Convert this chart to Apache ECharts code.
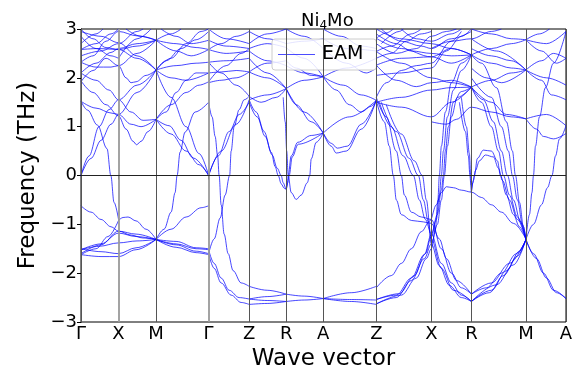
<!DOCTYPE html>
<html>
<head>
<meta charset="utf-8">
<script src="https://cdn.jsdelivr.net/npm/echarts@6/dist/echarts.min.js"></script>
<style>
  html, body { margin: 0; padding: 0; background: #fff; }
  #chart { width: 580px; height: 367px; }
</style>
</head>
<body>
<div id="chart"></div>
<script>
// High-symmetry points along the path (cumulative path distance) and their labels
const kPointDist = [0, 37.5, 75, 127.5, 168, 205, 242, 295, 350, 390, 444.5, 484.5];
const kPointLabels = ['Γ', 'X', 'M', 'Γ', 'Z', 'R', 'A', 'Z', 'X', 'R', 'M', 'A'];
const freqTicks = [-3, -2, -1, 0, 1, 2, 3];

// Phonon branches, each a list of [path distance, frequency in THz]; imaginary modes are negative
const bandsGammaXM = [
  [[0,-0.62],[10,-0.75],[20,-0.9],[30,-1.05],[37.5,-1.14],[50,-1.22],[62,-1.28],[75,-1.31]],
  [[37.5,-0.92],[42,-0.86],[47,-0.85],[55,-0.93],[65,-1.1],[75,-1.31]],
  [[0,-1.62],[15,-1.5],[27,-1.25],[37.5,-0.92]],
  [[0,-1.52],[18,-1.45],[37.5,-1.38],[56,-1.34],[75,-1.31]],
  [[0,-1.6],[20,-1.42],[37.5,-1.14],[55,-1.2],[75,-1.31]],
  [[0,-1.52],[20,-1.4],[37.5,-1.18],[55,-1.25],[75,-1.31]],
  [[0,-1.62],[20,-1.66],[37.5,-1.66],[55,-1.52],[75,-1.31]],
  [[0,-1.5],[20,-1.56],[37.5,-1.6],[55,-1.48],[75,-1.31]],
  [[0,1.52],[6.5,1.34],[16.5,1.03],[26,0.55],[29.8,0],[33,-0.55],[37.5,-0.9]],
  [[0,0],[10,0.35],[20,0.72],[30,1.05],[37.5,1.25],[56,1.7],[75,2.16]],
  [[0,0],[8,0.4],[18,1.0],[28,1.35],[37.5,1.55],[56,1.85],[75,2.16]],
  [[0,1.94],[12,1.7],[25,1.45],[37.5,1.22],[45,0.95],[52,0.7],[55.5,0.63],[60,0.7],[67,0.9],[75,1.15]],
  [[0,1.52],[15,1.38],[30,1.28],[37.5,1.25],[50,1.05],[60,1.0],[75,1.15]],
  [[0,2.1],[15,1.95],[28,1.75],[37.5,1.55],[50,1.3],[62,1.13],[75,1.15]],
  [[0,2.32],[15,2.22],[30,2.22],[37.5,2.25],[45,2.0],[50,1.9],[55,1.92],[65,2.05],[75,2.16]],
  [[0,2.58],[18,2.6],[37.5,2.58],[56,2.4],[75,2.16]],
  [[0,2.58],[15,2.7],[30,2.9],[37.5,3.0]],
  [[0,2.32],[12,2.45],[25,2.75],[37.5,2.95],[56,2.86],[75,2.77]],
  [[0,3.0],[12,2.8],[25,2.62],[37.5,2.58],[56,2.65],[75,2.77]],
  [[0,2.95],[20,2.85],[37.5,2.72],[56,2.45],[75,2.16]],
  [[0,2.1],[15,2.3],[30,2.52],[37.5,2.6],[56,2.7],[75,2.77]],
  [[0,1.92],[12,2.15],[25,2.4],[37.5,2.25],[56,2.5],[75,2.77]],
  [[37.5,2.4],[56,2.8],[70,3.0]],
  [[45,3.0],[60,2.85],[75,2.77]],
  [[0,2.7],[15,2.9],[22,3.0]],
  [[0,2.85],[15,2.6],[30,2.45],[37.5,2.4]],
  [[0,2.45],[20,2.55],[37.5,2.7],[56,2.95],[62,3.0]]
];

const bandsMGamma = [
  [[75,-1.31],[90,-1.1],[105,-0.85],[120,-0.66],[127.5,-0.62]],
  [[75,-1.31],[95,-1.4],[115,-1.5],[127.5,-1.52]],
  [[75,-1.31],[95,-1.42],[115,-1.55],[127.5,-1.6]],
  [[75,-1.31],[95,-1.47],[115,-1.58],[127.5,-1.62]],
  [[75,-1.31],[95,-1.35],[115,-1.48],[127.5,-1.5]],
  [[75,-1.31],[83,-1.1],[90,-0.75],[94,-0.35],[96,0],[99,0.48],[104,0.89],[114,1.3],[127.5,1.5]],
  [[75,1.15],[90,0.85],[105,0.5],[118,0.22],[127.5,0]],
  [[75,1.15],[88,1.02],[100,0.72],[112,0.36],[127.5,0]],
  [[75,2.16],[90,1.6],[105,1.0],[118,0.45],[127.5,0]],
  [[75,1.15],[90,1.45],[105,1.7],[118,1.85],[127.5,1.92]],
  [[75,2.16],[90,2.0],[105,1.95],[127.5,2.1]],
  [[75,2.16],[95,2.25],[115,2.3],[127.5,2.32]],
  [[75,2.77],[95,2.55],[110,2.45],[127.5,2.58]],
  [[75,2.77],[95,2.7],[115,2.62],[127.5,2.58]],
  [[75,2.16],[90,2.4],[105,2.7],[120,2.95],[127.5,3.0]],
  [[75,2.77],[90,2.9],[100,3.0]],
  [[80,3.0],[95,2.85],[110,2.7],[127.5,2.77]],
  [[75,2.16],[85,2.35],[100,2.6],[115,2.78],[127.5,2.95]],
  [[75,1.15],[85,1.3],[95,1.7],[105,1.95],[115,2.1],[127.5,2.1]]
];

const bandsGammaZ = [
  [[127.5,-1.52],[133,-1.8],[140,-2.1],[148,-2.35],[158,-2.5],[168,-2.53]],
  [[127.5,-1.6],[133,-1.9],[140,-2.2],[150,-2.45],[160,-2.6],[168,-2.64]],
  [[127.5,1.5],[131,1.2],[134,0.8],[136.5,0.4],[138,0],[140,-0.6],[143,-1.2],[147,-1.6],[152,-1.95],[160,-2.2],[168,-2.27]],
  [[127.5,-1.6],[133,-1.3],[139,-0.87],[144,-0.4],[148.5,0],[150,0.5],[153,1.0],[158,1.35],[163,1.55],[168,1.62]],
  [[127.5,0],[137,0.4],[148,0.9],[158,1.25],[168,1.5]],
  [[127.5,0],[140,0.5],[155,1.05],[168,1.55]],
  [[127.5,1.9],[140,1.95],[155,2.0],[168,2.12]],
  [[127.5,2.1],[140,2.12],[155,2.15],[168,2.12]],
  [[127.5,2.32],[145,2.35],[168,2.4]],
  [[127.5,2.58],[145,2.5],[168,2.55]],
  [[127.5,2.58],[140,2.7],[155,2.85],[168,2.95]],
  [[127.5,3.0],[145,2.8],[168,2.7]],
  [[127.5,2.77],[145,2.65],[168,2.6]],
  [[127.5,1.92],[145,2.25],[160,2.5],[168,2.6]],
  [[127.5,2.32],[140,2.1],[155,1.85],[168,1.62]]
];

const bandsZR = [
  [[168,-2.27],[186,-2.35],[205,-2.43]],
  [[168,-2.53],[186,-2.48],[205,-2.43]],
  [[168,-2.64],[186,-2.62],[205,-2.58]],
  [[168,-2.53],[186,-2.56],[205,-2.58]],
  [[168,1.55],[175,1.3],[183,0.9],[190,0.48],[194,0.18],[197,0],[200,-0.17],[203,-0.26],[205,-0.28],[206,-0.2],[207,0],[210,0.4],[216.5,0.68],[230,0.82],[242,0.87]],
  [[168,1.5],[176,1.2],[184,0.8],[191,0.42],[196,0.15],[200,0],[202,-0.15],[205,-0.28],[206.5,-0.15],[208,0],[211,0.38],[217,0.64],[242,0.87]],
  [[202,1.6],[204,1.1],[205.5,0.5],[207,0],[210,-0.35],[215,-0.49],[220,-0.4],[226,-0.15],[228.5,0],[230,0.34],[235,0.68],[242,0.87]],
  [[168,1.55],[186,1.65],[205,1.78]],
  [[168,1.62],[180,1.5],[195,1.6],[205,1.78]],
  [[168,2.12],[186,2.0],[205,1.78]],
  [[168,2.4],[186,2.1],[205,1.78]],
  [[168,2.12],[186,2.3],[205,2.35]],
  [[168,2.55],[186,2.35],[205,2.25]],
  [[168,2.6],[186,2.7],[205,2.62]],
  [[168,2.95],[186,2.8],[205,2.7]],
  [[168,2.7],[186,2.9],[205,3.0]]
];

const bandsRA = [
  [[205,-2.43],[223,-2.47],[242,-2.52]],
  [[205,-2.58],[223,-2.55],[242,-2.52]],
  [[205,1.78],[223,1.3],[242,0.87]],
  [[205,1.78],[215,1.45],[230,1.1],[242,0.87]],
  [[205,1.78],[223,1.95],[242,2.02]],
  [[205,2.25],[223,2.1],[242,2.02]],
  [[205,2.35],[215,2.2],[230,2.05],[242,2.02]],
  [[205,2.62],[223,2.4],[242,2.02]],
  [[205,2.7],[223,2.75],[242,2.8]],
  [[205,3.0],[223,2.85],[242,2.6]]
];

const bandsAZ = [
  [[242,-2.52],[270,-2.4],[295,-2.27]],
  [[242,-2.52],[270,-2.54],[295,-2.55]],
  [[242,-2.52],[270,-2.58],[295,-2.64]],
  [[242,0.87],[268,1.2],[295,1.54]],
  [[242,0.87],[250,0.6],[255,0.46],[265,0.5],[280,0.95],[295,1.54]],
  [[242,0.87],[250,0.66],[256,0.56],[266,0.6],[280,1.05],[295,1.54]],
  [[242,2.02],[255,1.75],[268,1.45],[280,1.3],[290,1.42],[295,1.54]],
  [[242,2.02],[262,1.85],[280,1.65],[295,1.54]],
  [[242,2.02],[265,2.2],[295,2.4]],
  [[242,2.8],[265,2.6],[295,2.55]],
  [[242,3.0],[260,2.85],[280,2.65],[295,2.6]],
  [[242,2.6],[265,2.3],[285,2.1],[295,2.2]]
];

const bandsZXR = [
  [[295,-2.3],[310,-2.05],[320,-1.8],[330,-1.5],[340,-1.15],[348.5,-0.93],[355,-0.6],[360,-0.35],[365,-0.23],[372,-0.25],[380,-0.3],[390,-0.34],[400,-0.45],[410,-0.6],[420,-0.75],[432,-0.98],[444.5,-1.3]],
  [[295,1.54],[303,1.1],[308,0.6],[312,0],[315,-0.5],[320,-0.8],[330,-0.92],[342,-0.95],[350,-0.98],[358,-1.3],[365,-1.7],[375,-2.15],[390,-2.43]],
  [[295,1.6],[305,1.2],[315,0.5],[320,0],[323,-0.4],[330,-0.75],[340,-0.85],[350,-0.9],[360,-1.5],[370,-2.0],[380,-2.3],[390,-2.43]],
  [[298,1.5],[310,1.0],[322,0.4],[332,0],[338,-0.5],[344,-0.9],[350,-1.2],[360,-1.8],[370,-2.2],[380,-2.45],[390,-2.58]],
  [[300,1.5],[315,0.9],[328,0.35],[337,0],[342,-0.5],[347,-0.95],[350,-1.3],[360,-1.9],[372,-2.35],[390,-2.58]],
  [[305,1.45],[320,0.85],[333,0.3],[341,0],[345,-0.5],[350,-1.4],[358,-1.85],[368,-2.25],[380,-2.5],[390,-2.58]],
  [[295,-2.54],[315,-2.45],[330,-2.1],[343,-1.62],[350,-1.2],[356,-0.8],[360,-0.3],[362,0],[364,0.5],[367,1.0],[372,1.5],[380,1.72],[390,1.81]],
  [[295,-2.63],[315,-2.5],[330,-2.15],[343,-1.7],[350,-1.4],[356,-1.0],[360,-0.5],[363,0],[366,0.6],[370,1.2],[376,1.6],[390,1.81]],
  [[295,-2.54],[318,-2.42],[333,-2.05],[344,-1.6],[350,-1.25],[355,-0.9],[358,-0.4],[360,0],[362,0.5],[366,1.2],[372,1.75],[380,2.15],[390,2.47]],
  [[295,-2.63],[320,-2.45],[335,-2.1],[345,-1.7],[350,-1.5],[354,-1.1],[356.5,-0.5],[358,0],[360,0.6],[364,1.3],[370,1.9],[380,2.3],[390,2.47]],
  [[295,1.5],[320,1.4],[350,1.2],[370,1.5],[390,1.81]],
  [[295,1.5],[320,1.6],[350,1.75],[370,1.8],[390,1.81]],
  [[295,2.26],[315,1.95],[335,1.82],[350,1.9],[370,1.95],[390,1.81]],
  [[295,2.54],[320,2.3],[350,2.0],[370,1.9],[390,1.81]],
  [[295,2.81],[320,2.6],[350,2.43],[370,2.3],[390,2.47]],
  [[295,2.26],[320,2.4],[350,2.43],[370,2.6],[390,2.47]],
  [[295,2.54],[310,2.65],[330,2.9],[340,3.0]],
  [[295,2.81],[305,2.92],[312,3.0]],
  [[295,3.0],[320,2.8],[350,2.7],[370,2.6],[390,2.47]],
  [[295,2.05],[320,2.1],[350,2.2],[365,2.55],[380,2.85],[390,3.0]],
  [[295,1.6],[305,1.9],[320,2.15],[335,2.25],[350,2.3],[370,2.75],[380,2.95]],
  [[295,2.7],[315,2.5],[335,2.6],[350,2.85],[365,2.95],[375,3.0]],
  [[300,3.0],[320,2.75],[340,2.65],[350,2.6],[370,2.8],[390,2.95]],
  [[350,1.1],[365,1.05],[375,1.15],[390,1.4],[410,1.3],[430,1.2],[444.5,1.16]],
  [[295,2.4],[310,2.5],[325,2.75],[340,2.9],[350,2.95]],
  [[295,2.9],[315,2.7],[330,2.55],[350,2.5],[370,2.45],[390,2.47]],
  [[300,2.7],[318,2.95],[322,3.0]],
  [[320,3.0],[335,2.8],[350,2.75],[370,2.9],[380,3.0]],
  [[350,2.6],[370,2.75],[390,2.8],[410,2.95],[420,3.0]]
];

const bandsRM = [
  [[390,-2.43],[405,-2.3],[420,-2.0],[435,-1.6],[444.5,-1.31]],
  [[390,-2.58],[415,-2.24],[432,-1.83],[444.5,-1.31]],
  [[390,-2.58],[408,-2.4],[422,-2.05],[436,-1.65],[444.5,-1.31]],
  [[390,-2.58],[410,-2.35],[425,-1.95],[438,-1.55],[444.5,-1.31]],
  [[390,-2.43],[410,-2.2],[428,-1.8],[444.5,-1.31]],
  [[378,1.5],[384,0.9],[387,0.4],[388.5,0],[389.5,-0.2],[390,-0.34]],
  [[380,1.6],[385,1.0],[388,0.45],[389.3,0],[390,-0.34]],
  [[390,-0.34],[391.5,-0.15],[393,0],[396,0.35],[402,0.52],[410,0.5],[416,0.3],[419,0],[425,-0.4],[432,-0.8],[438,-1.05],[444.5,-1.31]],
  [[390,-0.34],[392,-0.1],[394,0.1],[398,0.3],[404,0.42],[412,0.38],[417,0.15],[421,-0.1],[428,-0.5],[436,-0.9],[444.5,-1.31]],
  [[390,1.81],[400,1.5],[410,1.0],[417,0.5],[422,0],[428,-0.4],[436,-0.85],[444.5,-1.31]],
  [[390,1.81],[402,1.55],[412,1.1],[420,0.5],[426,0],[432,-0.5],[439,-0.95],[444.5,-1.31]],
  [[390,2.0],[410,1.6],[420,1.0],[427,0.5],[431,0],[436,-0.5],[441,-1.0],[444.5,-1.31]],
  [[390,2.47],[400,2.3],[415,1.8],[425,1.1],[431,0.5],[434,0],[438,-0.55],[442,-1.05],[444.5,-1.31]],
  [[390,1.81],[410,1.5],[425,1.25],[444.5,1.16]],
  [[390,1.81],[410,1.95],[430,2.1],[444.5,2.16]],
  [[390,2.47],[410,2.3],[430,2.2],[444.5,2.16]],
  [[390,2.47],[410,2.6],[430,2.7],[444.5,2.78]],
  [[390,3.0],[410,2.9],[430,2.8],[444.5,2.78]],
  [[390,2.2],[405,2.0],[420,1.9],[444.5,2.16]],
  [[390,2.8],[415,2.55],[444.5,2.16]],
  [[390,2.6],[410,2.45],[430,2.35],[444.5,2.16]]
];

const bandsMA = [
  [[444.5,-1.31],[455,-1.7],[465,-2.1],[475,-2.4],[484.5,-2.52]],
  [[444.5,-1.31],[452,-1.6],[462,-2.0],[472,-2.35],[484.5,-2.52]],
  [[444.5,-1.31],[452,-1.0],[460,-0.6],[466,-0.25],[470.5,0],[474,0.4],[478,0.75],[484.5,1.02]],
  [[444.5,-1.31],[448,-0.8],[450.5,-0.35],[452,0],[454,0.6],[458,1.2],[464,1.8],[472,2.3],[484.5,2.95]],
  [[444.5,1.16],[455,0.95],[462,0.8],[472,0.75],[484.5,0.86]],
  [[444.5,2.16],[465,2.0],[484.5,1.85]],
  [[444.5,2.16],[460,2.35],[472,2.5],[484.5,2.4]],
  [[444.5,2.78],[465,2.7],[484.5,2.95]],
  [[444.5,2.78],[458,2.9],[468,3.0]],
  [[444.5,1.16],[465,1.25],[484.5,1.02]],
  [[444.5,2.16],[460,1.95],[470,1.65],[484.5,1.55]],
  [[444.5,2.78],[460,2.55],[475,2.3],[484.5,2.4]]
];

const allBands = [].concat(bandsGammaXM, bandsMGamma, bandsGammaZ, bandsZR, bandsRA,
                           bandsAZ, bandsZXR, bandsRM, bandsMA);

const FONT = 'DejaVu Sans';
const bandColor = 'rgba(0,0,255,0.8)';

const bandSeries = allBands.map(curve => ({
  type: 'line',
  name: 'EAM',
  data: curve,
  smooth: 0.35,
  smoothMonotone: 'x',
  showSymbol: false,
  symbol: 'none',
  silent: true,
  z: 3,
  lineStyle: { color: bandColor, width: 0.9 },
  itemStyle: { color: bandColor }
}));

// Vertical separators at high-symmetry points plus the zero-frequency line
const softGuides = [1, 3];   // separators drawn lighter and wider
const guideSeries = {
  type: 'line',
  name: 'guides',
  data: [],
  z: 2,
  silent: true,
  markLine: {
    silent: true,
    symbol: ['none', 'none'],
    animation: false,
    label: { show: false },
    lineStyle: { color: '#555', width: 1, type: 'solid' },
    data: kPointDist.map((d, i) => softGuides.includes(i)
        ? { xAxis: d, lineStyle: { color: '#999', width: 1.8, type: 'solid' } }
        : { xAxis: d })
      .concat([{ yAxis: 0, lineStyle: { color: '#222', width: 1, type: 'solid' } }])
  }
};

const chart = echarts.init(document.getElementById('chart'), null, { renderer: 'canvas' });
chart.setOption({
  animation: false,
  backgroundColor: '#fff',
  textStyle: { fontFamily: FONT },
  title: {
    text: '{n|Ni}{s|4}{n|Mo}',
    left: 296,
    top: 6,
    textStyle: {
      fontWeight: 'normal',
      rich: {
        n: { fontSize: 18, fontFamily: FONT, fontWeight: 'normal', color: '#000' },
        s: { fontSize: 12, fontFamily: FONT, fontWeight: 'normal', color: '#000', padding: [9, 0, 0, 0] }
      }
    }
  },
  legend: {
    data: ['EAM'],
    left: 272,
    top: 39,
    padding: [6, 13, 6, 6],
    icon: 'rect',
    itemWidth: 37,
    itemHeight: 1.2,
    backgroundColor: 'rgba(255,255,255,0.85)',
    borderColor: '#ccc',
    borderWidth: 1,
    borderRadius: 3,
    itemStyle: { color: 'rgba(0,0,255,0.7)' },
    textStyle: { fontSize: 19, fontFamily: FONT, color: '#000', padding: [0, 0, 0, 2] },
    selectedMode: false
  },
  grid: {
    left: 81, right: 14, top: 29, bottom: 45,
    outerBoundsMode: 'none',
    containLabel: false,
    show: true, borderColor: '#000', borderWidth: 1, backgroundColor: 'transparent'
  },
  xAxis: {
    type: 'value',
    min: kPointDist[0],
    max: kPointDist[kPointDist.length - 1],
    axisLine: { show: true, lineStyle: { color: '#000' } },
    axisTick: { show: true, customValues: kPointDist, length: 4, lineStyle: { color: '#000' } },
    axisLabel: {
      customValues: kPointDist,
      formatter: v => { const i = kPointDist.indexOf(v); return i >= 0 ? kPointLabels[i] : ''; },
      fontSize: 18, fontFamily: FONT, color: '#000', margin: 3
    },
    splitLine: { show: false },
    name: 'Wave vector',
    nameLocation: 'middle',
    nameGap: 24,
    nameTextStyle: { fontSize: 23, fontFamily: FONT, color: '#000' }
  },
  yAxis: {
    type: 'value',
    min: freqTicks[0],
    max: freqTicks[freqTicks.length - 1],
    interval: 1,
    axisLine: { show: true, lineStyle: { color: '#000' } },
    axisTick: { show: true, length: 4, lineStyle: { color: '#000' } },
    axisLabel: {
      formatter: v => (v < 0 ? '\u2212' + Math.abs(v) : String(v)),
      fontSize: 18, fontFamily: FONT, color: '#000', margin: 4
    },
    splitLine: { show: false },
    name: 'Frequency (THz)',
    nameLocation: 'middle',
    nameGap: 33,
    nameRotate: 90,
    nameTextStyle: { fontSize: 23, fontFamily: FONT, color: '#000' }
  },
  series: [guideSeries].concat(bandSeries)
});
</script>
</body>
</html>
